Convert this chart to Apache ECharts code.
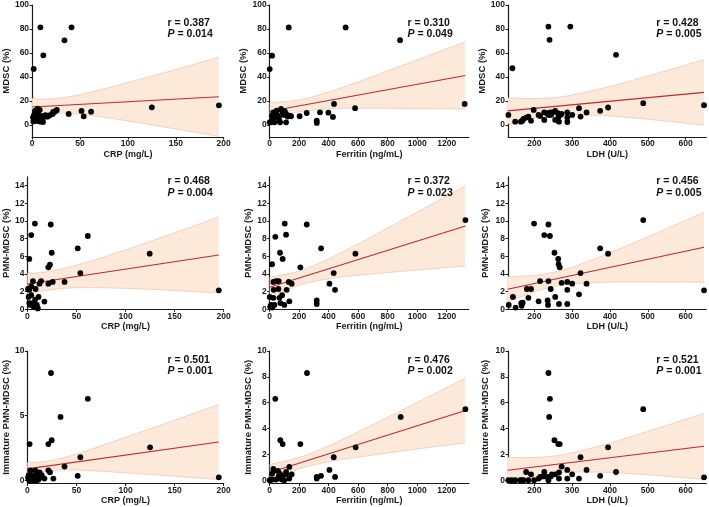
<!DOCTYPE html>
<html><head><meta charset="utf-8">
<script src="https://cdn.jsdelivr.net/npm/echarts@6/dist/echarts.min.js"></script>
<style>html,body{margin:0;padding:0;background:#fff}#c{width:709px;height:507px}</style>
</head><body><div id="c"></div>
<script>
// ---------- tick labels ----------
const ticksCrp = [0, 50, 100, 150, 200];
const ticksFer = [0, 200, 400, 600, 800, 1000, 1200];
const ticksLdh = [200, 300, 400, 500, 600];
const ticksMdsc = [0, 20, 40, 60, 80, 100];
const ticksPmn = [0, 2, 4, 6, 8, 10, 12, 14];
const ticksImm5 = [0, 5, 10];
const ticksImm2 = [0, 2, 4, 6, 8, 10];

const xNames = ['CRP (mg/L)', 'Ferritin (ng/mL)', 'LDH (U/L)'];
const yNames = ['MDSC (%)', 'PMN-MDSC (%)', 'Immature PMN-MDSC (%)'];

const rValues = ['0.387', '0.310', '0.428', '0.468', '0.372', '0.456', '0.501', '0.476', '0.521'];
const pValues = ['0.014', '0.049', '0.005', '0.004', '0.023', '0.005', '0.001', '0.002', '0.001'];

// ---------- scatter data ----------
const crpMdsc = [[1.7,46.7],[8.7,81.4],[11.7,58.1],[33.8,70.6],[41.2,81.4],[51.6,11.7],[53.9,7.2],[61.6,11.1],[38.2,9.2],[125,14.7],[195,16.4],
[1.3,3],[2,8.3],[3,11.7],[4,5.3],[4.7,10.3],[5.7,13.6],[6.4,3.3],[7,8.3],[8,12.5],[9,2.8],[10,7],[11.4,2.5],[12,7.5],[14,8.3],[16.4,7],[18.8,8.3],[21.4,9.2],[23,10.8],[24.8,11.7],[25.8,12.5],[3.4,9.7],[1,6.4],[5.4,3.6],[10.7,5.3],[7.4,6],[2.7,3.6],[14.7,7],[22,11]];
const ferMdsc = [[0,46.6],[16,57.8],[129,81.3],[515,81.3],[884,70.7],[1322,17.6],[579,14],[436,17.6],[398,10.3],[429,6.7],[341,10.6],[319,3.6],[319,1.7],[251,10],[203,7.3],[111,2.2],
[0,2.2],[9,2.2],[16,7.8],[25,10.6],[32,2.2],[38,6.4],[43,9.2],[54,7.8],[61,5.9],[66,3.6],[70,2.2],[77,13.4],[84,12],[88,10],[95,8.4],[102,11.5],[111,9.2],[122,7],[133,7.8],[145,7.3],[47,12],[20,5]];
const ldhMdsc = [[141.7,47.3],[237,82],[295,82],[240,71],[416,58.5],[488,18.2],[649,16.5],[395,14.6],[374,11.8],[338,10.4],[318,14],[322,7],[300,8.4],[287,10.6],[287,6.2],[287,2.5],
[131,8.4],[149,2.8],[164,2.8],[168,3.6],[171,5],[178,6.2],[184,7],[191,3.6],[198,12.6],[211,8.4],[215,7.6],[226,4.2],[226,10.6],[233,9.8],[237,8.4],[242,10.4],[244,8.4],[248,10.6],[255,4.2],[255,11.8],[262,9.8],[265,2.8],[268,8.4],[272,9.2],[264,7]];
const crpPmn = [[2,5.7],[4,8.4],[7.7,9.7],[5.7,3.2],[23.8,9.6],[24.8,6.4],[21.4,4.75],[23,5.05],[25.8,3.1],[21.4,2.9],[37.9,3.1],[51.3,6.9],[61.6,8.3],[54,4.1],[124.6,6.3],[195,2.15],[14,3.2],[12.4,2.9],[8.4,2.3],[17.4,0.87],
[0.7,2.3],[1.3,1.4],[2,0.7],[3,0.5],[4,1.6],[5.4,0.7],[6.4,0.3],[8,1.1],[9.7,0.5],[10.7,0.1],[11.4,1.4],[7.4,0.5],[4,2.6],[2,2.2]];
const ferPmn = [[102,9.7],[251,9.6],[111,8.45],[38,8.2],[70,6.4],[88,5.7],[16,5.1],[208,4.75],[348,6.9],[581,6.3],[1327,10.1],[434,4.1],[405,2.9],[443,2.2],[319,1.0],[319,0.6],[129,3.1],[149,2.9],[115,2.2],[133,0.9],[99,0.5],[72,0.7],[84,1.6],[66,1.3],[59,2.3],[25,3.1],[43,3.2],[61,3.2],[27,2.2],[0,1.4],[9,0.5],[16,0.2],[25,1.3],[20,0.3],[4,0.3],[32,0.5]];
const ldhPmn = [[199,9.7],[237,9.6],[226,8.4],[241,8.3],[253,6.4],[263,5.7],[264,5.1],[267,4.75],[374,6.9],[395,6.3],[488,10.1],[649,2.15],[322,4.1],[338,2.9],[300,2.9],[287,3.1],[287,2.2],[272,3.0],[318,1.7],[287,0.6],[265,0.6],[255,1.4],[243,2.3],[237,3.2],[215,3.2],[235,1.0],[236,0.5],[211,0.9],[191,2.3],[180,2.3],[184,1.3],[143,1.4],[132,0.5],[150,0.2],[166,0.4],[169,0.75],[165,0.7]];
const crpImm = [[24.1,8.3],[61.6,6.3],[33.8,4.9],[2.3,2.8],[24.8,3.1],[21.4,2.8],[125,2.55],[54,1.78],[37.9,1.06],[195,0.23],[51.3,0.34],[26.5,0.13],[21.4,0.77],[23,0.62],[17.4,0.13],[12.4,0.6],
[1.3,0.4],[3,0.77],[4.7,0.4],[6.4,0.13],[8,0.77],[8.7,0.26],[10,0.5],[11.4,0.05],[13,0.26],[14.7,0.4],[4,0],[2,0],[7.4,0],[9.7,0],[0.7,0.2]];
const ferImm = [[253,8.3],[38,6.3],[72,3.1],[88,2.8],[208,2.8],[583,2.55],[434,1.78],[888,4.9],[1327,5.5],[133,1.03],[405,0.8],[443,0.26],[319,0.26],[319,0.13],[348,0.34],[149,0.46],[111,0.64],[111,0.46],[133,0.13],[99,0],[84,0.05],[70,0.5],[61,0.3],[56,0.72],[25,0.72],[25,0.88],[16,0.5],[9,0.05],[20,0.05],[0,0],[43,0.05],[72,0.13],[84,0.3]];
const ldhImm = [[237,8.3],[241,6.3],[239,4.9],[253,3.1],[263,2.8],[267,2.8],[488,5.5],[395,2.55],[322,1.78],[338,0.8],[374,0.34],[416,0.64],[649,0.23],[318,0.13],[300,0.46],[287,0.8],[287,0.13],[272,1.06],[265,0.13],[265,0.6],[255,0.46],[246,0.46],[243,0.3],[237,0],[235,0.26],[226,0.64],[224,0.3],[215,0.26],[211,0.13],[199,0],[191,0.46],[184,0],[178,0.64],[166,0],[162,0],[149,0],[140,0],[131,0],[171,0]];

// ---------- regression lines ----------
const fitCrpMdsc = [[0,15],[195,23.5]];
const fitFerMdsc = [[0,11.5],[1327,41.3]];
const fitLdhMdsc = [[129,11.8],[649,27.2]];
const fitCrpPmn = [[0,2.87],[195,6.15]];
const fitFerPmn = [[0,2.5],[1327,9.43]];
const fitLdhPmn = [[129,2.26],[649,7.02]];
const fitCrpImm = [[0,0.88],[195,2.96]];
const fitFerImm = [[0,0.6],[1327,5.4]];
const fitLdhImm = [[129,0.77],[649,2.63]];

// ---------- 95% confidence bands ----------
const bandXCrp = [0, 20, 50, 100, 150, 195];
const bandXFer = [0, 200, 400, 600, 800, 1000, 1200, 1327];
const bandXLdh = [129, 200, 250, 300, 400, 500, 600, 649];
const loCrpMdsc = [8, 10, 9.1, 3.4, -3.3, -9.5];
const hiCrpMdsc = [22, 21.8, 25.3, 35.4, 46.3, 56.5];
const loFerMdsc = [5.5, 11, 13.5, 14, 13.9, 13.7, 13.5, 13.3];
const hiFerMdsc = [18.5, 21, 27.5, 36, 45.1, 54.3, 63.5, 69.3];
const loLdhMdsc = [1, 5.8, 8, 8.8, 7.5, 4.8, 1.5, -0.1];
const hiLdhMdsc = [22.6, 22, 22.8, 25, 32.1, 40.8, 49.9, 54.5];
const loCrpPmn = [1.72, 2.16, 2.44, 2.37, 2.12, 1.85];
const hiCrpPmn = [4.02, 4.26, 4.98, 6.73, 8.66, 10.45];
const loFerPmn = [1.37, 2.74, 3.46, 3.85, 4.16, 4.44, 4.72, 4.88];
const hiFerPmn = [3.63, 4.34, 5.72, 7.41, 9.2, 11, 12.82, 13.98];
const loLdhPmn = [0.84, 1.97, 2.56, 2.88, 3.08, 3.1, 3.08, 3.07];
const hiLdhPmn = [3.68, 3.85, 4.18, 4.76, 6.4, 8.2, 10.06, 10.97];
const loCrpImm = [0.38, 0.71, 0.79, 0.58, 0.31, 0.06];
const hiCrpImm = [1.38, 1.47, 2.03, 3.32, 4.65, 5.86];
const loFerImm = [-0.02, 0.88, 1.43, 1.79, 2.11, 2.42, 2.71, 2.9];
const hiFerImm = [1.22, 1.76, 2.67, 3.75, 4.87, 6.02, 7.17, 7.9];
const loLdhImm = [-0.23, 0.28, 0.53, 0.64, 0.6, 0.42, 0.19, 0.08];
const hiLdhImm = [1.77, 1.76, 1.87, 2.12, 2.88, 3.78, 4.71, 5.18];

// ---------- layout ----------
const FONT = 'Liberation Sans, Arial, Helvetica, sans-serif';
const cols = [{left: 25.3, w: 198.4}, {left: 269.7, w: 199.1}, {left: 508, w: 198.3}];
const rows = [{top: 5, h: 132}, {top: 176.8, h: 132.5}, {top: 351, h: 132.5}];
const xRanges = [[0, 200], [0, 1350], [130, 655]];
const yRanges = [[-10, 100], [0, 15], [-0.25, 10]];
const xTicks = [ticksCrp, ticksFer, ticksLdh];
const yTicks = [[ticksMdsc, ticksMdsc, ticksMdsc], [ticksPmn, ticksPmn, ticksPmn], [ticksImm5, ticksImm2, ticksImm2]];
const yNameGaps = [16.5, 16.5, 18, 11.5, 15, 18, 12.5, 15.5, 18];
const statX = [167.5, 407.5, 656.3];
const statY = [17, 175.7, 354.3];

const panels = [
  [crpMdsc, fitCrpMdsc, bandXCrp, loCrpMdsc, hiCrpMdsc],
  [ferMdsc, fitFerMdsc, bandXFer, loFerMdsc, hiFerMdsc],
  [ldhMdsc, fitLdhMdsc, bandXLdh, loLdhMdsc, hiLdhMdsc],
  [crpPmn, fitCrpPmn, bandXCrp, loCrpPmn, hiCrpPmn],
  [ferPmn, fitFerPmn, bandXFer, loFerPmn, hiFerPmn],
  [ldhPmn, fitLdhPmn, bandXLdh, loLdhPmn, hiLdhPmn],
  [crpImm, fitCrpImm, bandXCrp, loCrpImm, hiCrpImm],
  [ferImm, fitFerImm, bandXFer, loFerImm, hiFerImm],
  [ldhImm, fitLdhImm, bandXLdh, loLdhImm, hiLdhImm]
];

// Catmull-Rom smoothing of pixel points (render helper only)
function smoothPts(pts) {
  const out = [], n = pts.length, S = 12;
  for (let i = 0; i < n - 1; i++) {
    const p0 = pts[Math.max(i - 1, 0)], p1 = pts[i], p2 = pts[i + 1], p3 = pts[Math.min(i + 2, n - 1)];
    for (let s = 0; s < S; s++) {
      const t = s / S, t2 = t * t, t3 = t2 * t;
      const f = k => 0.5 * ((2 * p1[k]) + (-p0[k] + p2[k]) * t + (2 * p0[k] - 5 * p1[k] + 4 * p2[k] - p3[k]) * t2 + (-p0[k] + 3 * p1[k] - 3 * p2[k] + p3[k]) * t3);
      out.push([f(0), f(1)]);
    }
  }
  out.push(pts[n - 1]);
  return out;
}
function bandRenderer(bx, lo, hi) {
  return function (params, api) {
    if (params.dataIndex !== 0) return null;
    const up = smoothPts(bx.map((x, k) => api.coord([x, hi[k]])));
    const dn = smoothPts(bx.map((x, k) => api.coord([x, lo[k]])));
    return {
      type: 'group',
      children: [
        {type: 'polygon', shape: {points: up.concat(dn.slice().reverse())}, style: {fill: '#fde9da', stroke: null}},
        {type: 'polyline', shape: {points: up}, style: {stroke: '#eec9b3', lineWidth: 0.8, fill: null}},
        {type: 'polyline', shape: {points: dn}, style: {stroke: '#eec9b3', lineWidth: 0.8, fill: null}}
      ]
    };
  };
}

const AX = '#1a1a1a';
const grid = [], xAxis = [], yAxis = [], series = [], title = [];
panels.forEach((p, i) => {
  const r = Math.floor(i / 3), c = i % 3;
  grid.push({left: cols[c].left, top: rows[r].top, width: cols[c].w, height: rows[r].h, containLabel: false});
  const common = {
    gridIndex: i, type: 'value', splitLine: {show: false},
    axisLine: {show: true, onZero: false, lineStyle: {color: AX, width: 1.2}},
    nameLocation: 'middle'
  };
  const nameStyle = fs => ({fontFamily: FONT, fontWeight: 'bold', fontSize: fs, color: AX});
  const tick = vals => ({show: true, length: 2.5, customValues: vals, lineStyle: {color: AX, width: 1}});
  const lab = (vals, m) => ({customValues: vals, margin: m, formatter: v => String(v), fontFamily: FONT, fontWeight: 'bold', fontSize: 8.5, color: AX});
  xAxis.push(Object.assign({}, common, {
    min: xRanges[c][0], max: xRanges[c][1], name: xNames[c], nameGap: 13, nameTextStyle: nameStyle(9),
    axisTick: tick(xTicks[c]), axisLabel: lab(xTicks[c], 2.5)
  }));
  yAxis.push(Object.assign({}, common, {
    min: yRanges[r][0], max: yRanges[r][1], name: yNames[r], nameGap: yNameGaps[i], nameRotate: 90, nameTextStyle: nameStyle(9.5),
    axisTick: tick(yTicks[r][c]), axisLabel: lab(yTicks[r][c], 3)
  }));
  const [pts, fit, bx, lo, hi] = p;
  series.push({
    type: 'custom', xAxisIndex: i, yAxisIndex: i, clip: true, silent: true, z: 1,
    data: bx.map((x, k) => [x, lo[k], hi[k]]), encode: {x: 0, y: [1, 2]},
    renderItem: bandRenderer(bx, lo, hi)
  });
  series.push({
    type: 'line', xAxisIndex: i, yAxisIndex: i, data: fit, symbol: 'none',
    lineStyle: {color: '#c0282a', width: 1.1}, z: 3, silent: true
  });
  series.push({
    type: 'scatter', xAxisIndex: i, yAxisIndex: i, data: pts, symbolSize: 5.8,
    itemStyle: {color: '#000', opacity: 1}, z: 4
  });
  title.push({
    left: statX[c], top: statY[r], padding: 0,
    text: 'r = ' + rValues[i] + '\n{i|P} = ' + pValues[i],
    textStyle: {fontFamily: FONT, fontWeight: 'bold', fontSize: 10.5, lineHeight: 11.5, color: '#111',
      rich: {i: {fontFamily: FONT, fontWeight: 'bold', fontStyle: 'italic', fontSize: 10.5, lineHeight: 11.5, color: '#111'}}}
  });
});

const chart = echarts.init(document.getElementById('c'), null, {renderer: 'canvas'});
chart.setOption({animation: false, backgroundColor: '#fff', title, grid, xAxis, yAxis, series});
</script></body></html>
